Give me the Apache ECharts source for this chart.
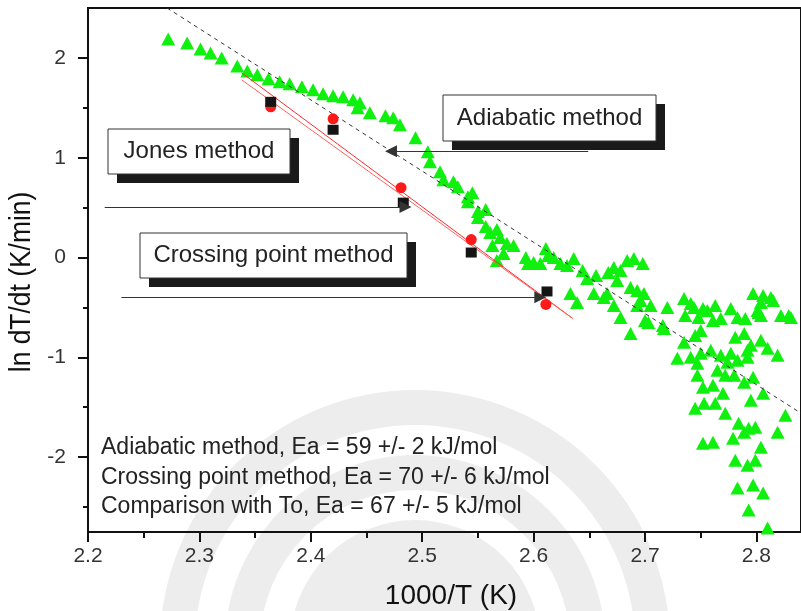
<!DOCTYPE html>
<html>
<head>
<meta charset="utf-8">
<script src="https://cdn.jsdelivr.net/npm/echarts@6/dist/echarts.min.js"></script>
<style>
html,body{margin:0;padding:0;background:#fff}
#main{width:801px;height:611px}
</style>
</head>
<body>
<div id="main"></div>
<script>
// adiabatic data: [1000/T, ln dT/dt]
var adiabatic = [
  [2.272,2.19],[2.289,2.15],[2.301,2.09],[2.310,2.05],[2.320,2.00],[2.334,1.92],[2.343,1.87],
  [2.352,1.83],[2.362,1.79],[2.372,1.76],[2.381,1.74],[2.392,1.71],[2.402,1.68],[2.411,1.64],
  [2.420,1.62],[2.429,1.61],[2.438,1.58],[2.444,1.55],[2.442,1.50],[2.453,1.45],[2.467,1.42],
  [2.474,1.40],[2.480,1.33],[2.494,1.20],[2.505,1.06],[2.507,0.96],[2.516,0.86],[2.519,0.78],
  [2.528,0.76],[2.532,0.71],[2.541,0.61],[2.545,0.65],[2.541,0.56],[2.550,0.46],[2.557,0.48],
  [2.550,0.40],[2.557,0.31],[2.561,0.25],[2.567,0.28],[2.570,0.20],[2.563,0.12],[2.576,0.14],
  [2.582,0.12],[2.573,0.04],[2.567,-0.03],[2.593,0.00],[2.595,-0.06],[2.600,-0.05],[2.606,-0.06],
  [2.611,0.09],[2.613,0.02],[2.618,0.00],[2.624,-0.06],[2.636,-0.01],[2.630,-0.08],[2.644,-0.13],
  [2.656,-0.18],[2.648,-0.21],[2.667,-0.15],[2.672,-0.10],[2.678,-0.13],[2.684,-0.03],[2.690,-0.01],
  [2.698,-0.06],[2.675,-0.23],[2.687,-0.30],[2.693,-0.33],[2.699,-0.36],[2.633,-0.36],[2.654,-0.36],
  [2.666,-0.36],[2.663,-0.40],[2.639,-0.45],[2.672,-0.48],[2.693,-0.48],[2.696,-0.43],[2.705,-0.48],
  [2.678,-0.60],[2.700,-0.63],[2.703,-0.65],[2.716,-0.68],[2.717,-0.71],[2.720,-0.50],[2.735,-0.41],
  [2.741,-0.46],[2.744,-0.50],[2.736,-0.58],[2.748,-0.60],[2.752,-0.51],[2.756,-0.53],[2.763,-0.48],
  [2.777,-0.51],[2.783,-0.60],[2.790,-0.61],[2.797,-0.36],[2.806,-0.38],[2.813,-0.40],[2.815,-0.43],
  [2.804,-0.45],[2.801,-0.53],[2.802,-0.55],[2.804,-0.58],[2.822,-0.58],[2.829,-0.58],[2.831,-0.60],
  [2.761,-0.63],[2.768,-0.61],[2.687,-0.76],[2.735,-0.85],[2.745,-0.78],[2.750,-0.73],[2.781,-0.80],
  [2.789,-0.76],[2.741,-1.00],[2.750,-0.96],[2.759,-0.93],[2.768,-0.98],[2.729,-1.01],[2.747,-1.06],
  [2.774,-1.05],[2.783,-1.03],[2.792,-1.00],[2.795,-0.88],[2.804,-0.83],[2.810,-0.91],[2.819,-0.98],
  [2.777,-0.96],[2.792,-0.93],[2.765,-1.13],[2.747,-1.18],[2.772,-1.18],[2.780,-1.18],[2.789,-1.25],
  [2.797,-1.20],[2.752,-1.30],[2.761,-1.28],[2.770,-1.36],[2.806,-1.36],[2.795,-1.43],[2.745,-1.51],
  [2.753,-1.46],[2.763,-1.46],[2.772,-1.56],[2.784,-1.66],[2.793,-1.71],[2.799,-1.70],[2.826,-1.58],
  [2.819,-1.75],[2.752,-1.86],[2.761,-1.85],[2.779,-1.81],[2.789,-1.75],[2.804,-1.90],[2.781,-2.03],
  [2.792,-2.08],[2.799,-2.03],[2.783,-2.31],[2.797,-2.28],[2.806,-2.36],[2.793,-2.53],[2.810,-2.71]
];
// Jones method (red circles) and crossing point method (black squares)
var jonesX = [2.364, 2.420, 2.481, 2.544, 2.611];
var jonesY = [1.51, 1.39, 0.70, 0.18, -0.47];
var crossX = [2.364, 2.420, 2.483, 2.544, 2.612];
var crossY = [1.56, 1.28, 0.55, 0.05, -0.34];
// fit lines
var adiabaticFit = [[2.271, 2.50], [2.84, -1.56]];
var jonesFit = [[2.338, 1.85], [2.635, -0.61]];
var crossFit = [[2.338, 1.78], [2.635, -0.61]];
// arrows from the labels: [start, end]
var arrows = [
  [[2.649, 1.066], [2.472, 1.066]],
  [[2.215, 0.505], [2.485, 0.505]],
  [[2.230, -0.398], [2.606, -0.398]]
];
var xTicks = [2.2, 2.3, 2.4, 2.5, 2.6, 2.7, 2.8];
var xMinor = [2.25, 2.35, 2.45, 2.55, 2.65, 2.75];
var yTicks = [-2, -1, 0, 1, 2];
var yMinor = [-2.5, -1.5, -0.5, 0.5, 1.5];
var notes = [
  'Adiabatic method, Ea = 59 +/- 2 kJ/mol',
  'Crossing point method, Ea = 70 +/- 6 kJ/mol',
  'Comparison with To, Ea = 67 +/- 5 kJ/mol'
];

function zip(xs, ys) {
  var out = [];
  for (var i = 0; i < xs.length; i++) out.push([xs[i], ys[i]]);
  return out;
}

// label box with dark drop shadow
function box(x, y, w, h, text) {
  return {
    type: 'group', x: x, y: y,
    children: [
      { type: 'rect', shape: { x: 9, y: 9, width: w, height: h }, style: { fill: '#1a1a1a' } },
      { type: 'rect', shape: { x: 0, y: 0, width: w, height: h }, style: { fill: '#fff', stroke: '#333', lineWidth: 1 } },
      { type: 'text', x: w / 2, y: h / 2,
        style: { text: text, font: '24px "Liberation Sans", Arial, sans-serif', fill: '#222',
                 align: 'center', verticalAlign: 'middle', textAlign: 'center', textVerticalAlign: 'middle' } }
    ]
  };
}

// faint watermark in the background (logo behind the plot)
var watermark = {
  type: 'group', z: -10, silent: true,
  children: [
    { type: 'circle', shape: { cx: 415, cy: 645, r: 255 }, style: { fill: '#ededed' } },
    { type: 'circle', shape: { cx: 415, cy: 645, r: 220 }, style: { fill: '#fff' } },
    { type: 'circle', shape: { cx: 415, cy: 645, r: 190 }, style: { fill: '#ededed' } },
    { type: 'circle', shape: { cx: 415, cy: 645, r: 155 }, style: { fill: '#fff' } },
    { type: 'circle', shape: { cx: 415, cy: 645, r: 125 }, style: { fill: '#ededed' } }
  ]
};

var graphics = [
  watermark,
  box(443, 95, 213, 46, 'Adiabatic method'),
  box(108, 129, 182, 45, 'Jones method'),
  box(140, 233, 267, 45, 'Crossing point method'),
  { type: 'text', x: 22, y: 282, rotation: Math.PI / 2, scaleX: 0.88,
    style: { text: 'ln dT/dt (K/min)', font: '30px "Liberation Sans", Arial, sans-serif', fill: '#111',
             align: 'center', verticalAlign: 'middle', textAlign: 'center', textVerticalAlign: 'middle' } },
  { type: 'text', x: 451, y: 596,
    style: { text: '1000/T (K)', font: '28px "Liberation Sans", Arial, sans-serif', fill: '#111',
             align: 'center', verticalAlign: 'middle', textAlign: 'center', textVerticalAlign: 'middle' } }
];
for (var n = 0; n < notes.length; n++) {
  graphics.push({ type: 'text', x: 101, y: 448 + n * 29.5,
    style: { text: notes[n], font: '23px "Liberation Sans", Arial, sans-serif', fill: '#222',
             align: 'left', verticalAlign: 'middle', textAlign: 'left', textVerticalAlign: 'middle' } });
}

var myChart = echarts.init(document.getElementById('main'));
var tickFont = { fontSize: 21, fontFamily: '"Liberation Sans", Arial, sans-serif', color: '#333' };

myChart.setOption({
  animation: false,
  grid: { left: 88, right: 0, top: 8, bottom: 79, show: true, borderColor: '#111', borderWidth: 2, backgroundColor: 'transparent' },
  xAxis: [
    {
      type: 'value', position: 'bottom', min: 2.2, max: 2.84,
      axisLine: { onZero: false, lineStyle: { color: '#111', width: 2 } },
      axisTick: { show: true, inside: false, customValues: xTicks, length: 10, lineStyle: { color: '#111', width: 2 } },
      axisLabel: Object.assign({ customValues: xTicks, margin: 14,
        formatter: function (v) { return v.toFixed(1); } }, tickFont),
      splitLine: { show: false }
    },
    {
      type: 'value', position: 'bottom', min: 2.2, max: 2.84,
      axisLine: { show: false, onZero: false },
      axisTick: { show: true, inside: false, customValues: xMinor, length: 6, lineStyle: { color: '#111', width: 2 } },
      axisLabel: { show: false },
      splitLine: { show: false }
    }
  ],
  yAxis: [
    {
      type: 'value', position: 'left', min: -2.75, max: 2.5,
      axisLine: { show: true, onZero: false, lineStyle: { color: '#111', width: 2 } },
      axisTick: { show: true, inside: false, customValues: yTicks, length: 10, lineStyle: { color: '#111', width: 2 } },
      axisLabel: Object.assign({ customValues: yTicks, margin: 22 }, tickFont),
      splitLine: { show: false }
    },
    {
      type: 'value', position: 'left', min: -2.75, max: 2.5,
      axisLine: { show: false, onZero: false },
      axisTick: { show: true, inside: false, customValues: yMinor, length: 5, lineStyle: { color: '#111', width: 2 } },
      axisLabel: { show: false },
      splitLine: { show: false }
    }
  ],
  series: [
    {
      name: 'Adiabatic', type: 'scatter', symbol: 'triangle', symbolSize: [14, 13],
      itemStyle: { color: '#0ff00f', opacity: 1 }, data: adiabatic, z: 2
    },
    {
      name: 'Adiabatic fit', type: 'line', symbol: 'none', data: adiabaticFit, z: 3,
      lineStyle: { color: '#333', width: 1, type: [4, 4] }
    },
    {
      name: 'Jones fit', type: 'line', symbol: 'none', data: jonesFit, z: 3,
      lineStyle: { color: '#ff2a2a', width: 1 }
    },
    {
      name: 'Crossing fit', type: 'line', symbol: 'none', data: crossFit, z: 3,
      lineStyle: { color: '#ff6060', width: 1 }
    },
    {
      name: 'Jones', type: 'scatter', symbol: 'circle', symbolSize: 11,
      itemStyle: { color: '#ff1a1a', opacity: 1 }, data: zip(jonesX, jonesY), z: 4
    },
    {
      name: 'Crossing point', type: 'scatter', symbol: 'rect', symbolSize: [11, 10],
      itemStyle: { color: '#141414', opacity: 1 }, data: zip(crossX, crossY), z: 4
    },
    {
      name: 'arrows', type: 'lines', coordinateSystem: 'cartesian2d', z: 5,
      symbol: ['none', 'triangle'], symbolSize: [9, 12],
      lineStyle: { color: '#333', width: 1, opacity: 1 },
      data: arrows.map(function (a) { return { coords: a }; })
    }
  ],
  graphic: graphics
});
</script>
</body>
</html>
